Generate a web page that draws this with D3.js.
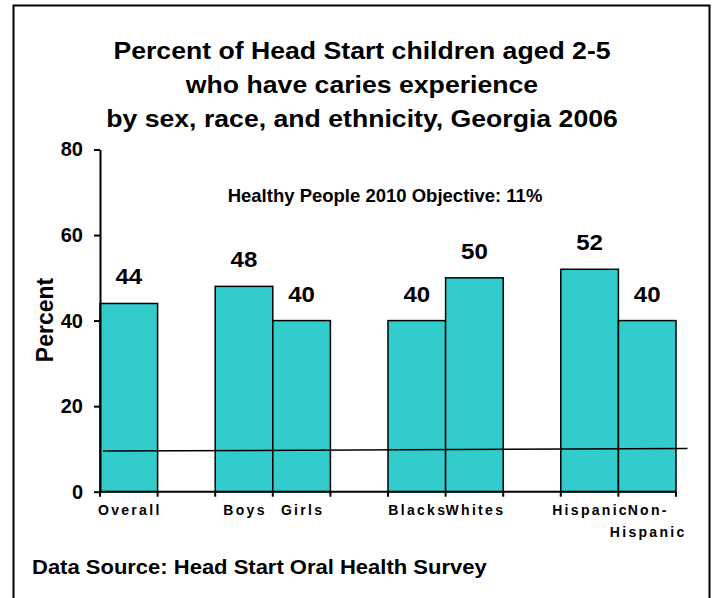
<!DOCTYPE html>
<html>
<head>
<meta charset="utf-8">
<script src="https://cdn.jsdelivr.net/npm/d3@7/dist/d3.min.js"></script>
<style>
  html, body { margin: 0; padding: 0; background: #fff; }
  svg { display: block; }
  text { font-family: "Liberation Sans", Arial, Helvetica, sans-serif; font-weight: bold; fill: #000; }
</style>
</head>
<body>
<svg id="chart" width="715" height="598"></svg>
<script>
// ---- data ----
const slots = ["Overall", "gap1", "Boys", "Girls", "gap2", "Blacks", "Whites", "gap3", "Hispanic", "Non-Hispanic"];
const categories = ["Overall", "Boys", "Girls", "Blacks", "Whites", "Hispanic", "Non-Hispanic"];
const values = [44, 48, 40, 40, 50, 52, 40];
const categoryLabels = [["Overall"], ["Boys"], ["Girls"], ["Blacks"], ["Whites"], ["Hispanic"], ["Non-", "Hispanic"]];
const yTicks = [0, 20, 40, 60, 80];
const objectiveValues = [9.5, 10.1];       // drawn objective line, left end / right end
const objectiveSlotExtent = [0.05, 10.2];  // extent in slot units
const titleLines = ["Percent of Head Start children aged 2-5", "who have caries experience", "by sex, race, and ethnicity, Georgia 2006"];
const objectiveLabel = "Healthy People 2010 Objective: 11%";
const yAxisTitle = "Percent";
const sourceNote = "Data Source: Head Start Oral Health Survey";

const svg = d3.select("#chart");

// frame
svg.append("rect")
  .attr("x", 13.5).attr("y", 5.5)
  .attr("width", 696).attr("height", 600)
  .attr("fill", "none").attr("stroke", "#000").attr("stroke-width", 2);

const plotLeft = 100, plotRight = 676, plotTop = 149.5, plotBottom = 491.7;

const x = d3.scaleBand().domain(slots).range([plotLeft, plotRight]).padding(0);
const xLin = d3.scaleLinear().domain([0, slots.length]).range([plotLeft, plotRight]);
const y = d3.scaleLinear().domain([0, 80]).range([plotBottom, plotTop]);

// title
svg.append("g").selectAll("text").data(titleLines).join("text")
  .attr("transform", (d, i) => `translate(362,${59 + i * 34}) scale(1.11,1)`)
  .attr("text-anchor", "middle")
  .style("font-size", "24px")
  .text(d => d);

// bars
svg.append("g").selectAll("rect").data(categories).join("rect")
  .attr("x", d => x(d))
  .attr("y", (d, i) => y(values[i]))
  .attr("width", x.bandwidth())
  .attr("height", (d, i) => y(0) - y(values[i]))
  .attr("fill", "#33CCCC")
  .attr("stroke", "#000")
  .attr("stroke-width", 1.5);

// value labels
svg.append("g").selectAll("text").data(categories).join("text")
  .attr("transform", (d, i) => `translate(${x(d) + x.bandwidth() / 2},${y(values[i]) - 19}) scale(1.12,1)`)
  .attr("text-anchor", "middle")
  .style("font-size", "21.5px")
  .text((d, i) => values[i]);

// objective line
svg.append("line")
  .attr("x1", xLin(objectiveSlotExtent[0])).attr("y1", y(objectiveValues[0]))
  .attr("x2", xLin(objectiveSlotExtent[1])).attr("y2", y(objectiveValues[1]))
  .attr("stroke", "#000").attr("stroke-width", 1.5);

// y axis
const yAxis = svg.append("g")
  .attr("transform", `translate(${plotLeft},0)`)
  .call(d3.axisLeft(y).tickValues(yTicks).tickSize(6).tickPadding(11).tickSizeOuter(0));
yAxis.select(".domain").attr("stroke", "#000").attr("stroke-width", 2);
yAxis.selectAll(".tick line").attr("stroke", "#000").attr("stroke-width", 2);
yAxis.selectAll(".tick text").style("font-size", "20px").style("font-family", '"Liberation Sans", Arial, sans-serif').style("font-weight", "bold");

// x axis with ticks at slot boundaries
const xAxis = svg.append("g").attr("transform", `translate(0,${plotBottom})`);
xAxis.append("line").attr("x1", plotLeft).attr("x2", plotRight).attr("y1", 0).attr("y2", 0)
  .attr("stroke", "#000").attr("stroke-width", 2);
xAxis.selectAll("line.tk").data(d3.range(slots.length + 1)).join("line")
  .attr("class", "tk")
  .attr("x1", d => xLin(d)).attr("x2", d => xLin(d))
  .attr("y1", 0).attr("y2", 5)
  .attr("stroke", "#000").attr("stroke-width", 2);

// category labels
const lab = svg.append("g").selectAll("text").data(categories).join("text")
  .attr("x", d => x(d) + x.bandwidth() / 2 + 1)
  .attr("y", 515)
  .attr("text-anchor", "middle")
  .style("font-size", "14px")
  .style("letter-spacing", "2.3px");
lab.each(function(d, i) {
  const t = d3.select(this);
  categoryLabels[i].forEach((line, j) => {
    t.append("tspan").attr("x", x(d) + x.bandwidth() / 2 + 1).attr("dy", j === 0 ? 0 : 22).text(line);
  });
});

// y axis title
svg.append("text")
  .attr("transform", "translate(53,320) rotate(-90)")
  .attr("text-anchor", "middle")
  .style("font-size", "23px")
  .text(yAxisTitle);

// objective annotation
svg.append("text")
  .attr("x", 385).attr("y", 202)
  .attr("text-anchor", "middle")
  .style("font-size", "18.5px")
  .text(objectiveLabel);

// source note
svg.append("text")
  .attr("transform", "translate(32,574) scale(1.1,1)")
  .style("font-size", "20px")
  .text(sourceNote);
</script>
</body>
</html>
